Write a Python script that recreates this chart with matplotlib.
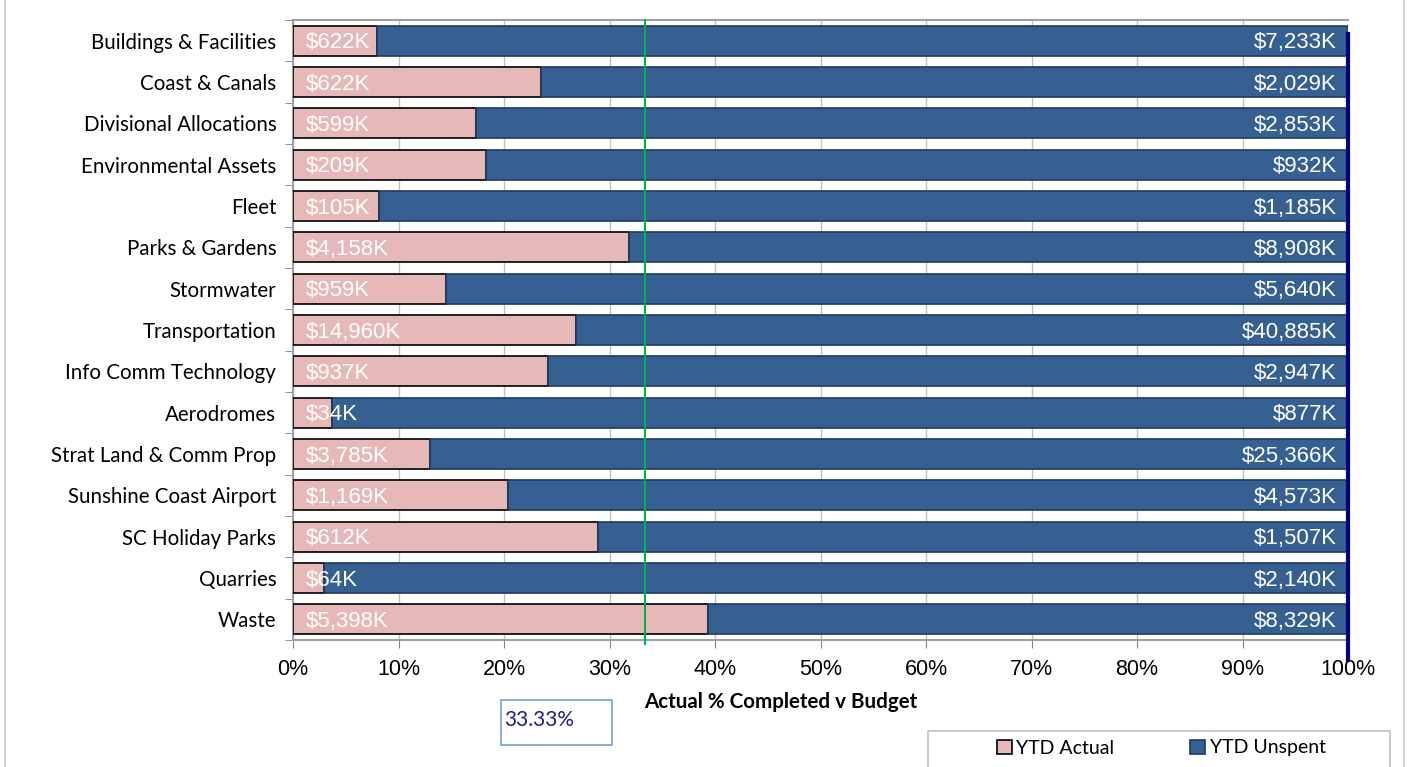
import numpy as np
import matplotlib.pyplot as plt
from matplotlib.lines import Line2D
from matplotlib.patches import Rectangle

categories = ["Buildings & Facilities", "Coast & Canals", "Divisional Allocations",
              "Environmental Assets", "Fleet", "Parks & Gardens", "Stormwater",
              "Transportation", "Info Comm Technology", "Aerodromes",
              "Strat Land & Comm Prop", "Sunshine Coast Airport", "SC Holiday Parks",
              "Quarries", "Waste"]
ytd_actual = [622, 622, 599, 209, 105, 4158, 959, 14960, 937, 34, 3785, 1169, 612, 64, 5398]
ytd_unspent = [7233, 2029, 2853, 932, 1185, 8908, 5640, 40885, 2947, 877, 25366, 4573, 1507, 2140, 8329]
x_ticks = [0, 10, 20, 30, 40, 50, 60, 70, 80, 90, 100]
target = 33.33

pink = "#E6B9B8"
blue = "#376092"

actual = np.array(ytd_actual, dtype=float)
unspent = np.array(ytd_unspent, dtype=float)
total = actual + unspent
pa = actual / total * 100
pu = unspent / total * 100

fig = plt.figure(figsize=(14.12, 7.67), dpi=100)
ax = fig.add_axes([293 / 1412, 1 - 640 / 767, (1348 - 293) / 1412, 620 / 767])

y = np.arange(len(categories))
ax.barh(y, pa, height=0.73, color=pink, edgecolor="black", linewidth=1.2, zorder=3)
ax.barh(y, pu, left=pa, height=0.73, color=blue, edgecolor="#1F3A60", linewidth=1.2, zorder=3)

for i in range(len(categories)):
    ax.annotate("${:,}K".format(ytd_actual[i]), (0, i), xytext=(9, -1.5), textcoords="offset points",
                ha="left", va="center", color="white", fontsize=16, family="Liberation Sans", zorder=5)
    ax.annotate("${:,}K".format(ytd_unspent[i]), (100, i), xytext=(-8, -1.5), textcoords="offset points",
                ha="right", va="center", color="white", fontsize=16, family="Liberation Sans", zorder=5)

ax.set_xlim(0, 100)
ax.set_ylim(len(categories) - 0.5, -0.5)
ax.set_xticks(x_ticks)
ax.set_xticklabels(["{}%".format(t) for t in x_ticks], family="Liberation Sans", fontsize=15.5)
ax.set_yticks(y)
ax.set_yticklabels(categories, family="Lato", fontsize=14.8)
ax.tick_params(axis="y", length=0, pad=12)
ax.set_yticks(np.arange(len(categories) + 1) - 0.5, minor=True)
ax.tick_params(axis="y", which="minor", length=6, direction="out", color="#808080")
ax.tick_params(axis="x", length=6, direction="out", color="#808080", pad=8)

ax.grid(axis="x", color="#BFBFBF", linewidth=1, zorder=0)
for s in ["top", "left", "bottom"]:
    ax.spines[s].set_color("#A0A0A0")
    ax.spines[s].set_linewidth(1.5)
ax.spines["right"].set_visible(False)

# target line and 100% line
ax.add_line(Line2D([target, target], [-0.006, 1.0], transform=ax.get_xaxis_transform(),
                   color="#00B050", linewidth=1.5, clip_on=False, zorder=6))
ax.add_line(Line2D([1, 1], [-0.032, 0.977], transform=ax.transAxes, color="#000080",
                   linewidth=3, clip_on=False, zorder=6))

fig.text(781 / 1412, 1 - 702 / 767, "Actual % Completed v Budget", ha="center", va="center",
         fontsize=14.8, fontweight="bold", family="Lato")

# target box
fig.patches.append(Rectangle((501 / 1412, 1 - 745 / 767), 111 / 1412, 45 / 767,
                             transform=fig.transFigure, fill=False, edgecolor="#6FA0DC", linewidth=1.2))
fig.text(504 / 1412, 1 - 720 / 767, "33.33%", ha="left", va="center", color="#1F1F8F",
         fontsize=15, family="Lato")

# figure frame (sides)
fig.add_artist(Line2D([5 / 1412, 5 / 1412], [0, 1], transform=fig.transFigure, color="#C8C8C8", linewidth=1.2))
fig.add_artist(Line2D([1404 / 1412, 1404 / 1412], [0, 1], transform=fig.transFigure, color="#C8C8C8", linewidth=1.2))

# legend frame
fig.patches.append(Rectangle((928 / 1412, -0.05), (1390 - 928) / 1412, 0.05 + 36 / 767,
                             transform=fig.transFigure, fill=False, edgecolor="#C0C0C0", linewidth=1.2))
handles = [Rectangle((0, 0), 1, 1, facecolor=pink, edgecolor="black", linewidth=1.2),
           Rectangle((0, 0), 1, 1, facecolor=blue, edgecolor="#1F3A60", linewidth=1.2)]
fig.legend(handles, ["YTD Actual", "YTD Unspent"], ncol=2, loc="center left",
           bbox_to_anchor=(997 / 1412, 1 - 748 / 767), frameon=False,
           prop={"family": "Lato", "size": 14}, handlelength=0.75, handleheight=0.75,
           handletextpad=0.25, columnspacing=3.9, borderpad=0, borderaxespad=0)

fig.savefig("out.png", dpi=100)
